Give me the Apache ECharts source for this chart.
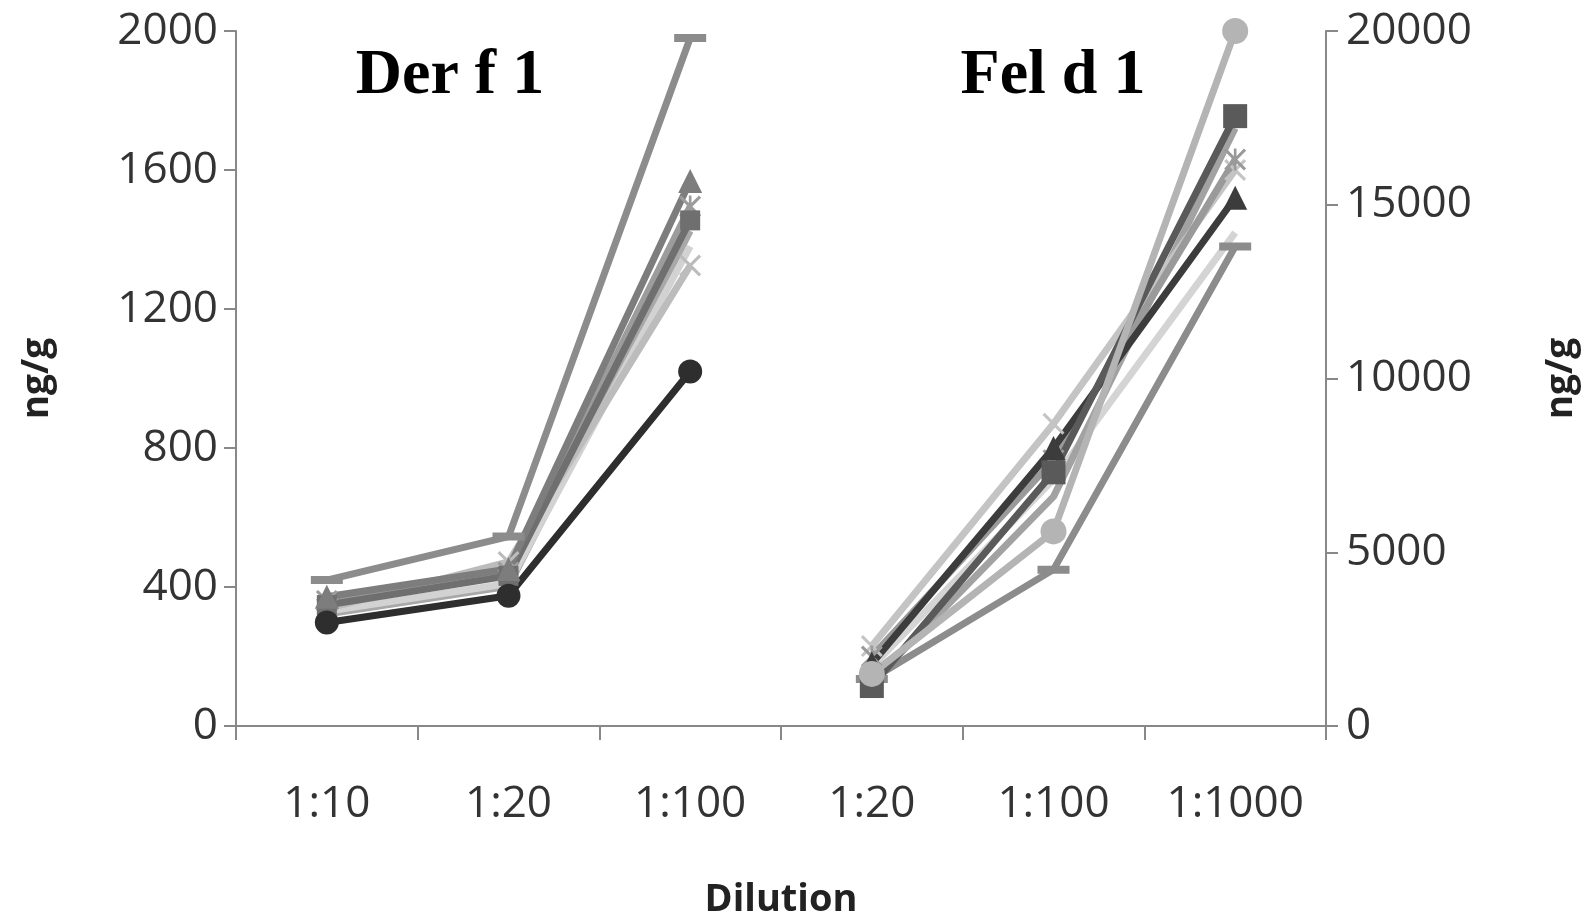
<!DOCTYPE html>
<html lang="en">

<head>
    <meta charset="utf-8">
    <title>Der f 1 / Fel d 1</title>
    <script src="https://cdn.jsdelivr.net/npm/echarts@6/dist/echarts.min.js"></script>
    <style>
        html, body { margin: 0; padding: 0; background: #fff; }
        #chart { width: 1596px; height: 917px; }
    </style>
</head>

<body>
    <div id="chart"></div>
    <script type="text/javascript">
        // x categories (left block = Der f 1, right block = Fel d 1)
        var categories = ['1:10', '1:20', '1:100', '1:20', '1:100', '1:1000'];
        var leftTicks = [0, 400, 800, 1200, 1600, 2000];
        var rightTicks = [0, 5000, 10000, 15000, 20000];

        // Der f 1 samples (ng/g, left axis) at 1:10, 1:20, 1:100
        var derCircle = [298, 375, 1020];
        var derDash = [420, 545, 1980];
        var derTriangle = [372, 452, 1568];
        var derSquare = [348, 432, 1455];
        var derStar = [360, 442, 1495];
        var derCross = [338, 472, 1325];
        var derLight = [330, 410, 1380];
        var derMid = [322, 402, 1425];

        // Fel d 1 samples (ng/g, right axis) at 1:20, 1:100, 1:1000
        var felCircle = [1500, 5600, 20000];
        var felSquare = [1150, 7300, 17550];
        var felTriangle = [1800, 8000, 15200];
        var felDash = [1350, 4500, 13800];
        var felCross = [2300, 8700, 16000];
        var felStar = [2000, 7650, 16300];
        var felLight = [1700, 7100, 14200];
        var felMid = [1250, 6600, 17200];

        var crossPath = 'path://M1,0L5,4L9,0L10,1L6,5L10,9L9,10L5,6L1,10L0,9L4,5L0,1Z';
        var starPath = 'path://M4.4,0H5.6V10H4.4Z M1,0L5,4L9,0L10,1L6,5L10,9L9,10L5,6L1,10L0,9L4,5L0,1Z';

        function line(vals, left, color, symbol, size) {
            var data = left ? vals.concat([null, null, null]) : [null, null, null].concat(vals);
            return {
                type: 'line',
                yAxisIndex: left ? 0 : 1,
                data: data,
                connectNulls: false,
                symbol: symbol,
                symbolSize: size,
                showSymbol: symbol !== 'none',
                lineStyle: { color: color, width: 7 },
                itemStyle: { color: color },
                emphasis: { disabled: true }
            };
        }

        var series = [
            line(derMid, true, '#a8a8a8', 'none', 0),
            line(derLight, true, '#d2d2d2', 'none', 0),
            line(derCross, true, '#bcbcbc', crossPath, 22),
            line(derStar, true, '#9c9c9c', starPath, 22),
            line(derSquare, true, '#6f6f6f', 'rect', 20),
            line(derTriangle, true, '#7d7d7d', 'triangle', 24),
            line(derDash, true, '#8c8c8c', 'rect', [32, 8]),
            line(derCircle, true, '#2e2e2e', 'circle', 24),
            line(felLight, false, '#d4d4d4', 'none', 0),
            line(felMid, false, '#a2a2a2', 'none', 0),
            line(felDash, false, '#8c8c8c', 'rect', [32, 8]),
            line(felCross, false, '#c4c4c4', crossPath, 22),
            line(felStar, false, '#9a9a9a', starPath, 22),
            line(felTriangle, false, '#3c3c3c', 'triangle', 24),
            line(felSquare, false, '#5a5a5a', 'rect', 24),
            line(felCircle, false, '#b4b4b4', 'circle', 26)
        ];

        var labelFont = { fontFamily: 'Open Sans', fontSize: 44, color: '#333' };
        var axisGray = '#888';
        var plain = function (v) { return String(v); };

        var myChart = echarts.init(document.getElementById('chart'));
        var option = {
            animation: false,
            backgroundColor: '#fff',
            grid: { left: 236, right: 270, top: 31, bottom: 191, outerBoundsMode: 'none', containLabel: false },
            xAxis: {
                type: 'category',
                data: categories,
                boundaryGap: true,
                name: 'Dilution',
                nameLocation: 'middle',
                nameGap: 155,
                nameTextStyle: { fontFamily: 'Open Sans', fontWeight: 'bold', fontSize: 38, color: '#222' },
                axisLine: { lineStyle: { color: axisGray, width: 2 } },
                axisTick: { show: true, length: 14, lineStyle: { color: axisGray, width: 2 } },
                axisLabel: Object.assign({ margin: 56, interval: 0 }, labelFont),
                splitLine: { show: false }
            },
            yAxis: [{
                type: 'value',
                position: 'left',
                min: 0,
                max: 2000,
                interval: 400,
                name: 'ng/g',
                nameLocation: 'middle',
                nameRotate: 90,
                nameGap: 180,
                nameTextStyle: { fontFamily: 'Open Sans', fontWeight: 'bold', fontSize: 37, color: '#222' },
                axisLine: { show: true, lineStyle: { color: axisGray, width: 2 } },
                axisTick: { show: true, length: 12, lineStyle: { color: axisGray, width: 2 } },
                axisLabel: Object.assign({ margin: 18, customValues: leftTicks, formatter: plain }, labelFont),
                splitLine: { show: false }
            }, {
                type: 'value',
                position: 'right',
                min: 0,
                max: 20000,
                interval: 5000,
                name: 'ng/g',
                nameLocation: 'middle',
                nameRotate: 90,
                nameGap: 217,
                nameTextStyle: { fontFamily: 'Open Sans', fontWeight: 'bold', fontSize: 37, color: '#222' },
                axisLine: { show: true, lineStyle: { color: axisGray, width: 2 } },
                axisTick: { show: true, length: 12, lineStyle: { color: axisGray, width: 2 } },
                axisLabel: Object.assign({ margin: 20, customValues: rightTicks, formatter: plain }, labelFont),
                splitLine: { show: false }
            }],
            graphic: [{
                type: 'text',
                x: 450, y: 76,
                style: {
                    text: 'Der f 1', textAlign: 'center', textVerticalAlign: 'middle',
                    fontFamily: 'Liberation Serif', fontWeight: 'bold', fontSize: 64, fill: '#000'
                }
            }, {
                type: 'text',
                x: 1053, y: 76,
                style: {
                    text: 'Fel d 1', textAlign: 'center', textVerticalAlign: 'middle',
                    fontFamily: 'Liberation Serif', fontWeight: 'bold', fontSize: 64, fill: '#000'
                }
            }],
            series: series
        };
        myChart.setOption(option);
    </script>
</body>

</html>
